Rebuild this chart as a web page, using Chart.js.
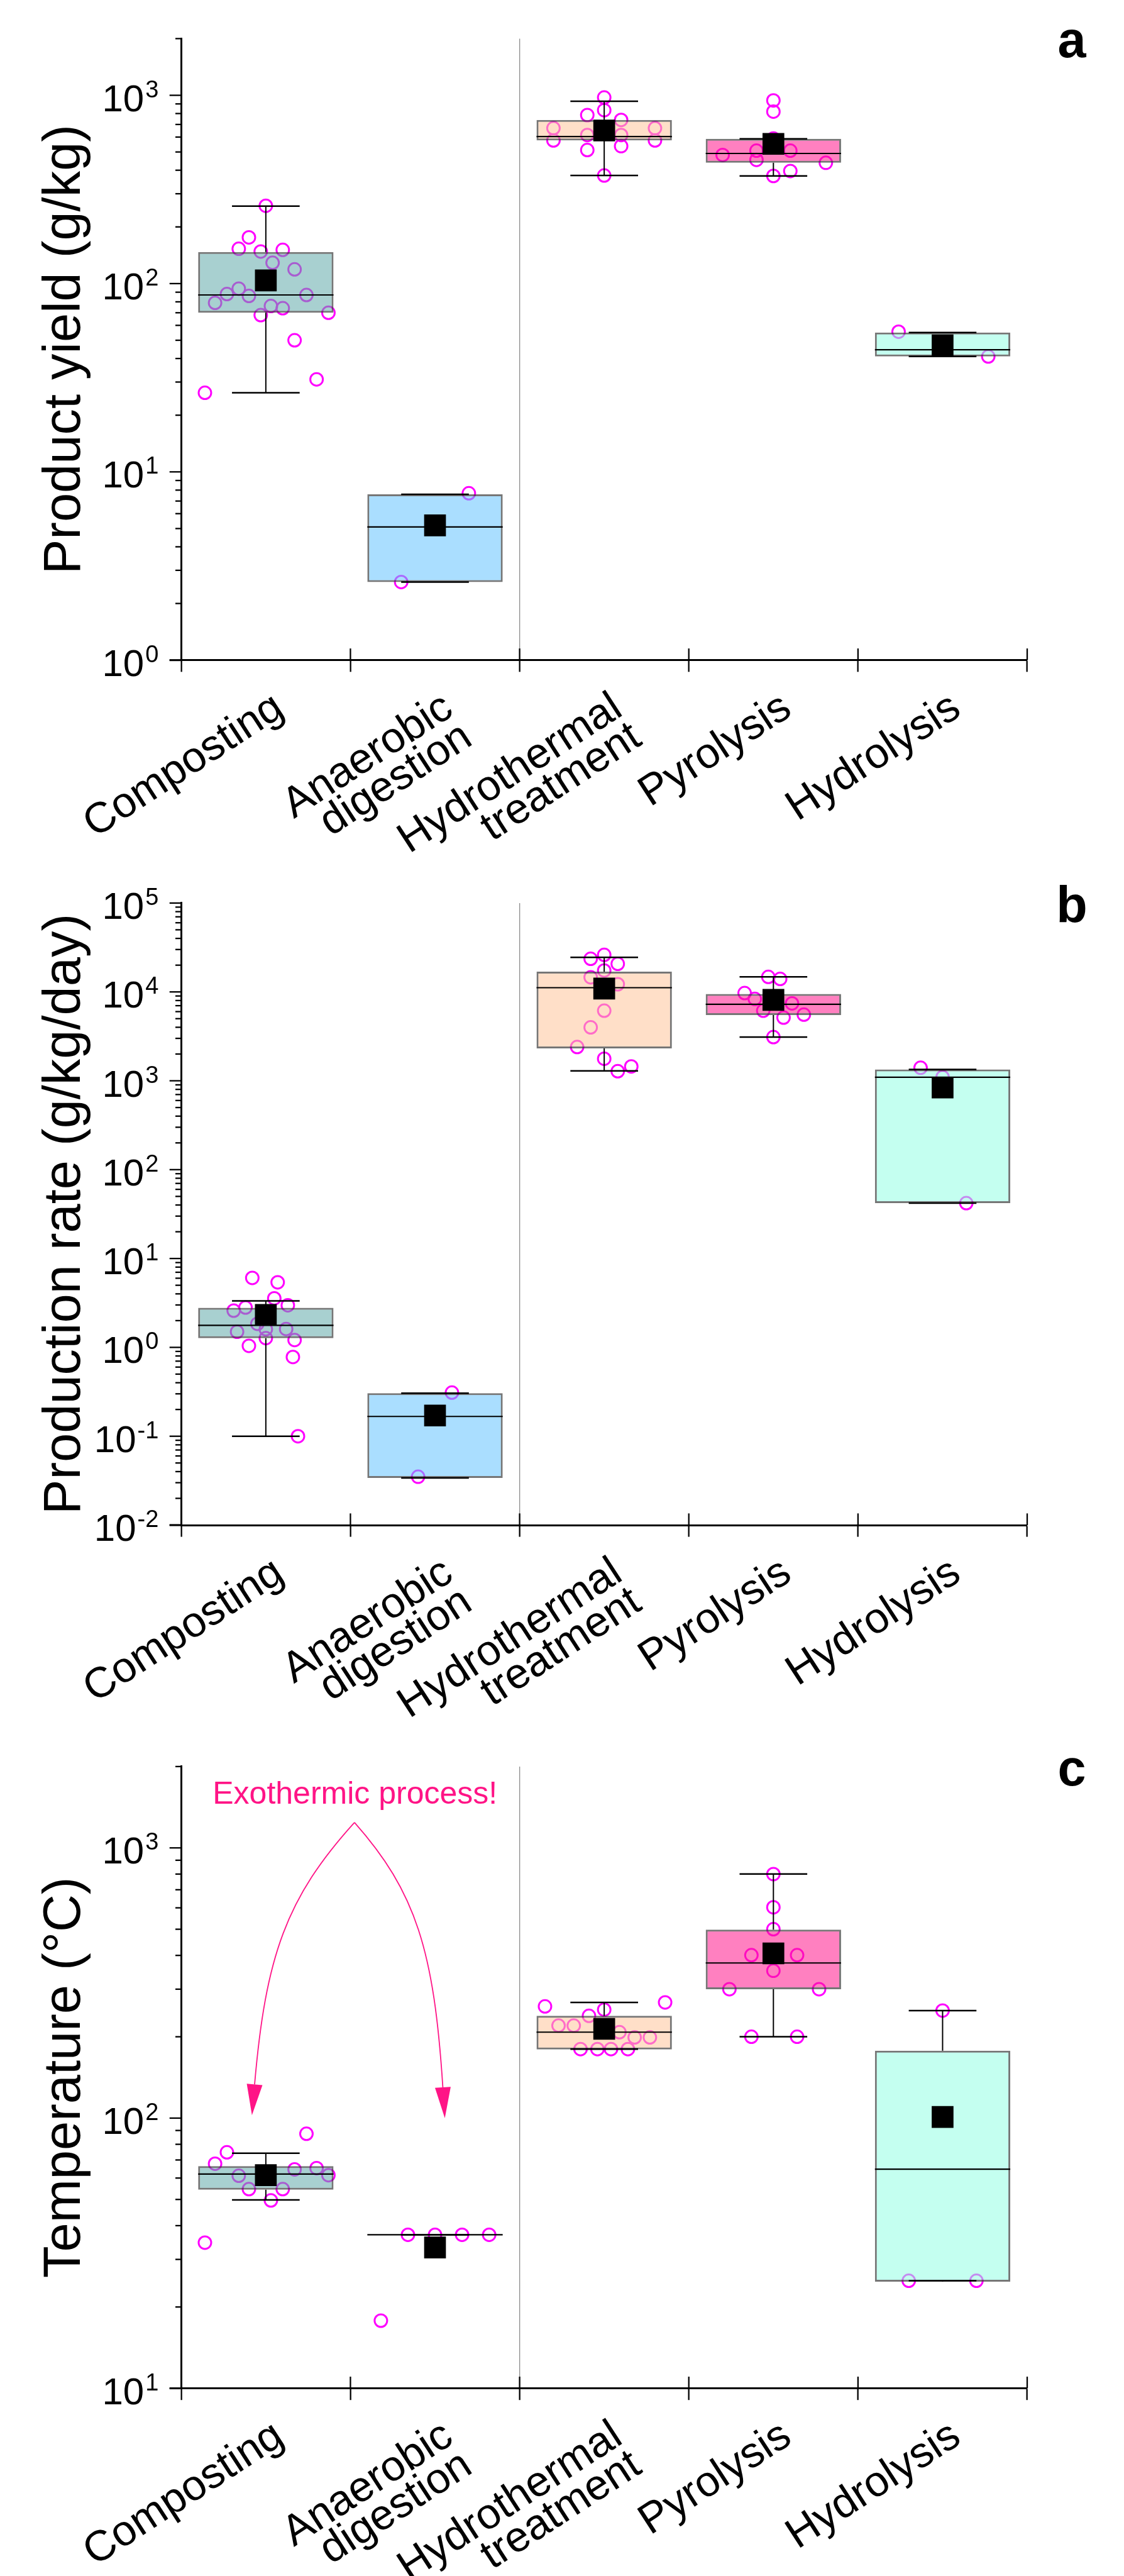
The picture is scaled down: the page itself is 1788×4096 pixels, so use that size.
<!DOCTYPE html>
<html>
<head>
<meta charset="utf-8">
<script src="https://cdn.jsdelivr.net/npm/chart.js@4.4.1/dist/chart.umd.min.js"></script>
<style>
  html, body { margin: 0; padding: 0; background: #fff; }
  #wrap { position: relative; width: 1788px; height: 4096px; }
  canvas { position: absolute; left: 0; }
</style>
</head>
<body>
<div id="wrap">
  <canvas id="chartA" width="1788" height="1365" style="top:0px;width:1788px;height:1365px"></canvas>
  <canvas id="chartB" width="1788" height="1365" style="top:1365px;width:1788px;height:1365px"></canvas>
  <canvas id="chartC" width="1788" height="1366" style="top:2730px;width:1788px;height:1366px"></canvas>
</div>
<script>
// categories (shared by the three panels)
const categories = [['Composting'], ['Anaerobic', 'digestion'], ['Hydrothermal', 'treatment'], ['Pyrolysis'], ['Hydrolysis']];

// panel a - product yield (g/kg)
const yieldRange = [1, 2000];
const yieldExponents = [0, 1, 2, 3];
const yieldQ1 = [70, 2.6, 576, 438, 41];
const yieldQ3 = [147, 7.6, 740, 587, 55];
const yieldMedian = [87, 5.1, 604, 491, 44.5];
const yieldMean = [104, 5.2, 650, 552, 47];
const yieldLow = [26.3, 2.6, 375, 373, 41];
const yieldHigh = [258, 7.6, 929, 587, 55];
const yieldPoints = [
  [259, 176, 153, 148, 151, 129, 119, 94, 88, 86, 87, 79, 76, 74, 68, 70, 50, 31, 26.3],
  [7.7, 2.6],
  [973, 834, 785, 740, 669, 669, 615, 615, 576, 576, 512, 537, 375],
  [939, 819, 590, 482, 508, 454, 508, 396, 438, 373],
  [55.5, 41]
];
const yieldJitter = [
  [0, -0.10, -0.16, -0.03, 0.10, 0.04, 0.17, -0.16, -0.23, -0.10, 0.24, -0.30, 0.03, 0.10, -0.03, 0.37, 0.17, 0.30, -0.36],
  [0.20, -0.20],
  [0, 0, -0.10, 0.10, -0.30, 0.30, -0.10, 0.10, -0.30, 0.30, -0.10, 0.10, 0],
  [0, 0, 0, -0.30, -0.10, -0.10, 0.10, 0.10, 0.31, 0],
  [-0.26, 0.27]
];

// panel b - production rate (g/kg/day)
const rateRange = [0.01, 100000];
const rateExponents = [-2, -1, 0, 1, 2, 3, 4, 5];
const rateQ1 = [1.27, 0.034, 2316, 5480, 42];
const rateQ3 = [2.79, 0.305, 16900, 9460, 1343];
const rateMedian = [1.77, 0.167, 11150, 7250, 1097];
const rateMean = [2.32, 0.171, 10900, 8130, 840];
const rateLow = [0.1, 0.034, 1290, 3100, 42];
const rateHigh = [3.33, 0.305, 24500, 14750, 1343];
const ratePoints = [
  [6.05, 5.4, 3.56, 2.98, 2.81, 2.59, 1.84, 1.61, 1.6, 1.5, 1.27, 1.21, 1.04, 0.78, 0.1],
  [0.31, 0.035],
  [26100, 23600, 20700, 17400, 14600, 12200, 6150, 3990, 2400, 1770, 1280, 1450],
  [14750, 14000, 9700, 8340, 7430, 6150, 5550, 5140, 3100],
  [1400, 1100, 42]
];
const rateJitter = [
  [-0.08, 0.07, 0.05, 0.13, -0.12, -0.19, -0.05, 0.12, 0, -0.17, 0, 0.17, -0.10, 0.16, 0.19],
  [0.10, -0.10],
  [0, -0.08, 0.08, 0, -0.08, 0.08, 0, -0.08, -0.16, 0, 0.08, 0.16],
  [-0.03, 0.04, -0.17, -0.11, 0.11, -0.06, 0.18, 0.06, 0],
  [-0.13, 0, 0.14]
];

// panel c - temperature (degC)
const tempRange = [10, 2000];
const tempExponents = [1, 2, 3];
const tempQ1 = [54.3, 37, 179.5, 300, 24.8];
const tempQ3 = [66.4, 37, 239, 498, 177.5];
const tempMedian = [62.1, 37, 208, 375, 64.7];
const tempMean = [61.5, 33.2, 214, 407, 101];
const tempLow = [49.8, 37, 180, 200, 25];
const tempHigh = [74.1, 37, 268, 801, 250];
const tempPoints = [
  [87.5, 74.7, 67.8, 64.6, 65.3, 61.5, 61.2, 54.6, 54.6, 49.6, 34.6],
  [37, 37, 37, 37, 17.8],
  [259, 268, 252, 239, 220, 220, 208, 199, 199, 180, 180, 180, 180],
  [800, 603, 500, 401, 401, 351, 300, 300, 200, 200],
  [250, 104, 25, 25]
];
const tempJitter = [
  [0.24, -0.23, -0.30, 0.17, 0.30, 0.37, -0.16, -0.10, 0.10, 0.03, -0.36],
  [-0.16, 0, 0.16, 0.32, -0.32],
  [-0.35, 0.36, 0, -0.09, -0.27, -0.18, 0.09, 0.18, 0.27, -0.14, -0.04, 0.04, 0.14],
  [0, 0, 0, -0.13, 0.14, 0, -0.26, 0.27, -0.13, 0.14],
  [0, 0, -0.20, 0.20]
];

// annotation in panel c, in axis units (category units, value)
const noteText = 'Exothermic process!';
const noteAt = {x: 1.027, y: 1460};
const arrowFrom = {x: 1.024, y: 1242};
const arrowLeft = [{x: 0.620, y: 653}, {x: 0.499, y: 397}, {x: 0.418, y: 102.6}];
const arrowRight = [{x: 1.388, y: 687}, {x: 1.494, y: 416}, {x: 1.558, y: 100}];

const FONT = "Arial, 'Liberation Sans', sans-serif";
const boxFill = ['rgba(97,170,170,0.55)', 'rgba(100,195,255,0.55)', 'rgba(255,197,155,0.55)',
                 'rgba(255,24,140,0.55)', 'rgba(148,255,228,0.55)'];
const noteColor = '#FF1486';

// ticks, tick labels, panel letter and the arrow note
const decorPlugin = {
  id: 'decor',
  afterDraw(chart, args, opts) {
    const ctx = chart.ctx;
    const area = chart.chartArea;
    const xs = chart.scales.x;
    const ys = chart.scales.y;
    const line = (x1, y1, x2, y2) => { ctx.beginPath(); ctx.moveTo(x1, y1); ctx.lineTo(x2, y2); ctx.stroke(); };
    ctx.save();
    ctx.strokeStyle = '#000';
    ctx.fillStyle = '#000';

    // log ticks on the y axis
    ctx.lineWidth = 2.3;
    const lo = Math.floor(Math.log10(ys.min));
    const hi = Math.ceil(Math.log10(ys.max));
    for (let e = lo; e <= hi; e++) {
      for (let m = 1; m <= 9; m++) {
        const v = m * Math.pow(10, e);
        if (v < ys.min * 0.999 || v > ys.max * 1.001) continue;
        const y = ys.getPixelForValue(v);
        line(area.left - (m === 1 ? 18.6 : 9.3), y, area.left, y);
      }
    }
    // x ticks cross the axis
    for (let v = xs.min; v <= xs.max; v++) {
      const x = xs.getPixelForValue(v);
      line(x, area.bottom - 18.6, x, area.bottom);
    }
    ctx.lineWidth = 3;
    line(area.left - 18.6, area.bottom, area.left, area.bottom);

    // 10^n labels
    ctx.textAlign = 'right';
    ctx.textBaseline = 'alphabetic';
    opts.exps.forEach(e => {
      const y = ys.getPixelForValue(Math.pow(10, e));
      const right = area.left - 36;
      ctx.font = '38px ' + FONT;
      const ex = String(e);
      const w = ctx.measureText(ex).width;
      ctx.fillText(ex, right, y + 3);
      ctx.font = '60px ' + FONT;
      ctx.fillText('10', right - w - 2, y + 25);
    });

    // panel letter
    ctx.font = 'bold 81px ' + FONT;
    ctx.textAlign = 'center';
    ctx.fillText(opts.letter, area.right + 71, area.top + 30);

    if (opts.note) {
      const px = pt => ({x: xs.getPixelForValue(pt.x), y: ys.getPixelForValue(pt.y)});
      ctx.fillStyle = noteColor;
      ctx.strokeStyle = noteColor;
      ctx.font = '50px ' + FONT;
      const t = px(noteAt);
      ctx.fillText(noteText, t.x, t.y);
      ctx.lineWidth = 1.8;
      [arrowLeft, arrowRight].forEach(path => {
        const a = px(arrowFrom), c1 = px(path[0]), c2 = px(path[1]), tip = px(path[2]);
        const ang = Math.atan2(tip.y - c2.y, tip.x - c2.x);
        const bx = tip.x - 49 * Math.cos(ang), by = tip.y - 49 * Math.sin(ang);
        ctx.beginPath();
        ctx.moveTo(a.x, a.y);
        ctx.bezierCurveTo(c1.x, c1.y, c2.x, c2.y, bx, by);
        ctx.stroke();
        ctx.beginPath();
        ctx.moveTo(tip.x, tip.y);
        ctx.lineTo(bx + 12.5 * Math.sin(ang), by - 12.5 * Math.cos(ang));
        ctx.lineTo(bx - 12.5 * Math.sin(ang), by + 12.5 * Math.cos(ang));
        ctx.closePath();
        ctx.fill();
      });
    }
    ctx.restore();
  }
};

function buildConfig(p) {
  const centers = categories.map((_, i) => i + 0.5);
  const gap = c => ({x: c, y: null});
  const boxes = centers.map((c, i) => ({x: c, y: [p.q1[i], p.q3[i]]}));
  const dots = [];
  p.points.forEach((vals, i) => vals.forEach((v, k) => dots.push({x: centers[i] + p.jitter[i][k], y: v})));
  const whiskers = [], caps = [], medians = [];
  centers.forEach((c, i) => {
    whiskers.push({x: c, y: p.q3[i]}, {x: c, y: p.high[i]}, gap(c), {x: c, y: p.q1[i]}, {x: c, y: p.low[i]}, gap(c));
    caps.push({x: c - 0.2, y: p.high[i]}, {x: c + 0.2, y: p.high[i]}, gap(c),
              {x: c - 0.2, y: p.low[i]}, {x: c + 0.2, y: p.low[i]}, gap(c));
    medians.push({x: c - 0.4, y: p.median[i]}, {x: c + 0.4, y: p.median[i]}, gap(c));
  });
  const means = centers.map((c, i) => ({x: c, y: p.mean[i]}));

  return {
    type: 'scatter',
    data: {
      datasets: [
        { type: 'scatter', data: dots, order: 5, pointStyle: 'circle', pointRadius: 10,
          pointBorderWidth: 3, pointBorderColor: '#FF00FF', pointBackgroundColor: 'rgba(0,0,0,0)' },
        { type: 'bar', data: boxes, order: 4, backgroundColor: boxFill, borderColor: 'rgba(60,60,60,0.7)',
          borderWidth: 3, borderSkipped: false, categoryPercentage: 1, barPercentage: 0.8 },
        { type: 'line', data: whiskers, order: 3, borderColor: '#000', borderWidth: 2, pointRadius: 0, spanGaps: false },
        { type: 'line', data: caps, order: 2, borderColor: '#000', borderWidth: 2.5, pointRadius: 0, spanGaps: false },
        { type: 'line', data: medians, order: 1, borderColor: '#000', borderWidth: 2.2, pointRadius: 0, spanGaps: false },
        { type: 'scatter', data: means, order: 0, pointStyle: 'rect', pointRadius: 24.5,
          pointBackgroundColor: '#000', pointBorderWidth: 0 }
      ]
    },
    options: {
      responsive: false,
      animation: false,
      devicePixelRatio: 1,
      events: [],
      layout: { padding: { top: p.padTop, right: 154, bottom: 0, left: 0 } },
      plugins: {
        legend: { display: false },
        tooltip: { enabled: false },
        decor: { exps: p.exps, letter: p.letter, note: p.note }
      },
      scales: {
        x: {
          type: 'linear', position: 'bottom', min: 0, max: 5, offset: false,
          afterBuildTicks: s => { s.ticks = centers.map(v => ({ value: v })); },
          afterFit: s => { s.height = p.xHeight; },
          ticks: {
            autoSkip: false, minRotation: 33, maxRotation: 33, padding: 28, labelOffset: 22, color: '#000',
            font: { family: FONT, size: 68, lineHeight: 0.82 },
            callback: (v, i) => categories[i]
          },
          grid: {
            offset: true, drawOnChartArea: true, drawTicks: true, tickLength: 18.6,
            tickWidth: 2.3, tickColor: '#000', lineWidth: 1.3,
            color: c => c.index === 2 ? '#8a8a8a' : 'rgba(0,0,0,0)'
          },
          border: { display: true, color: '#000', width: 3 }
        },
        y: {
          type: 'logarithmic', position: 'left', min: p.range[0], max: p.range[1],
          afterFit: s => { s.width = 288.3; },
          ticks: { display: false },
          grid: { display: false },
          border: { display: true, color: '#000', width: 3 },
          title: {
            display: true, text: p.title, color: '#000',
            font: { family: FONT, size: 83 }, padding: { top: 54, bottom: 0 }
          }
        }
      }
    },
    plugins: [decorPlugin]
  };
}

new Chart(document.getElementById('chartA'), buildConfig({
  q1: yieldQ1, q3: yieldQ3, median: yieldMedian, mean: yieldMean, low: yieldLow, high: yieldHigh,
  points: yieldPoints, jitter: yieldJitter, range: yieldRange, exps: yieldExponents,
  title: 'Product yield (g/kg)', letter: 'a', padTop: 61.4, xHeight: 315.3, note: false
}));

new Chart(document.getElementById('chartB'), buildConfig({
  q1: rateQ1, q3: rateQ3, median: rateMedian, mean: rateMean, low: rateLow, high: rateHigh,
  points: ratePoints, jitter: rateJitter, range: rateRange, exps: rateExponents,
  title: 'Production rate (g/kg/day)', letter: 'b', padTop: 70.9, xHeight: 305, note: false
}));

new Chart(document.getElementById('chartC'), buildConfig({
  q1: tempQ1, q3: tempQ3, median: tempMedian, mean: tempMean, low: tempLow, high: tempHigh,
  points: tempPoints, jitter: tempJitter, range: tempRange, exps: tempExponents,
  title: 'Temperature (°C)', letter: 'c', padTop: 78.9, xHeight: 298.4, note: true
}));
</script>
</body>
</html>
